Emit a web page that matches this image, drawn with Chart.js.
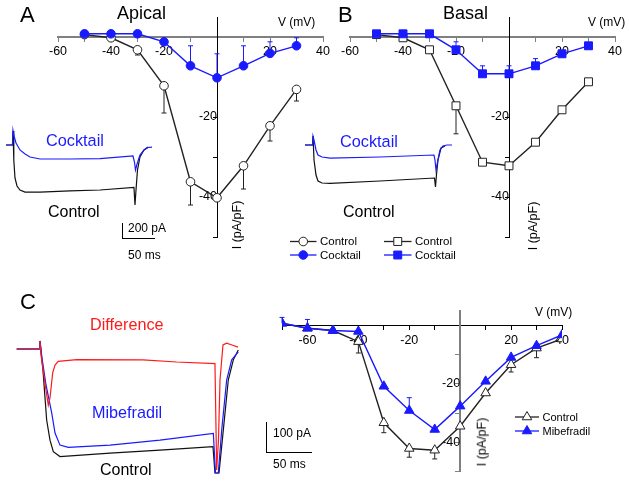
<!DOCTYPE html>
<html>
<head>
<meta charset="utf-8">
<script src="https://cdn.jsdelivr.net/npm/chart.js@4.4.1/dist/chart.umd.min.js"></script>
<style>
  body { margin: 0; background: #fff; }
  #figura { position: relative; width: 629px; height: 481px; overflow: hidden; font-family: Arial, "Liberation Sans", sans-serif; }
  #figura canvas { position: absolute; left: 0; top: 0; }
  .txt { position: absolute; white-space: nowrap; line-height: 1; transform: translateY(-50%); }
  .rot { position: absolute; white-space: nowrap; line-height: 1; font-size: 12.5px; transform: translate(-50%, -50%) rotate(-90deg); }
  .barra { position: absolute; background: #000; }
</style>
</head>
<body>
<div id="figura">
  <canvas id="tracoA" width="629" height="481"></canvas>
  <canvas id="tracoB" width="629" height="481"></canvas>
  <canvas id="tracoC" width="629" height="481"></canvas>
  <canvas id="ivA" width="629" height="481"></canvas>
  <canvas id="ivB" width="629" height="481"></canvas>
  <canvas id="ivC" width="629" height="481"></canvas>

  <div class="txt" style="left:20px; top:15px; font-size:22px;">A</div>
  <div class="txt" style="left:117px; top:13px; font-size:18px;">Apical</div>
  <div class="txt" style="left:338px; top:15px; font-size:22px;">B</div>
  <div class="txt" style="left:443px; top:13px; font-size:18px;">Basal</div>
  <div class="txt" style="left:20px; top:302px; font-size:22px;">C</div>

  <div class="txt" style="left:278px; top:22px; font-size:12px;">V (mV)</div>
  <div class="txt" style="left:588px; top:22px; font-size:12px;">V (mV)</div>
  <div class="txt" style="left:535px; top:312px; font-size:12px;">V (mV)</div>
  <div class="rot" style="left:237px; top:225px;">I (pA/pF)</div>
  <div class="rot" style="left:533px; top:226px;">I (pA/pF)</div>
  <div class="rot" style="left:482px; top:442px;">I (pA/pF)</div>

  <div class="txt" style="left:46px; top:140px; font-size:16.3px; color:#1a1aff;">Cocktail</div>
  <div class="txt" style="left:48px; top:212px; font-size:16px;">Control</div>
  <div class="txt" style="left:340px; top:141px; font-size:16.3px; color:#1a1aff;">Cocktail</div>
  <div class="txt" style="left:343px; top:212px; font-size:16px;">Control</div>
  <div class="barra" style="left:122px; top:223px; width:1.3px; height:16px;"></div>
  <div class="barra" style="left:122px; top:238px; width:33px; height:1.3px;"></div>
  <div class="txt" style="left:128px; top:228px; font-size:12px;">200 pA</div>
  <div class="txt" style="left:128px; top:255px; font-size:12px;">50 ms</div>

  <div class="txt" style="left:90px; top:324px; font-size:16.2px; color:#ff1a1a;">Difference</div>
  <div class="txt" style="left:92px; top:412px; font-size:16.2px; color:#1a1aff;">Mibefradil</div>
  <div class="txt" style="left:100px; top:470px; font-size:16px;">Control</div>
  <div class="barra" style="left:266px; top:422px; width:1.2px; height:31px;"></div>
  <div class="barra" style="left:266px; top:452px; width:45.5px; height:1.2px;"></div>
  <div class="txt" style="left:273px; top:433px; font-size:12px;">100 pA</div>
  <div class="txt" style="left:273px; top:464px; font-size:12px;">50 ms</div>
</div>

<script>
// curvas I-V (mV, pA/pF)
const tensaoAB = [-50, -40, -30, -20, -10, 0, 10, 20, 30];
const controleApical = [0.6, -0.2, -3.2, -12.2, -36.2, -40.2, -32.2, -22.2, -13.1];
const erroControleApical = [0, 0, 1.3, 6.8, 5.8, 0, 5.8, 3.8, 2.9];
const coquetelApical = [0.8, 0.8, 0.8, -1.2, -7.2, -10.2, -7.2, -4.1, -2.2];
const erroCoquetelApical = [0, 0, 0, 0, 5, 6, 5, 2.9, 2];

const controleBasal = [0.6, -0.2, -3.2, -17.2, -31.3, -32.2, -26.3, -18.2, -11.2];
const erroControleBasal = [0, 0, 0, 7, 0, 0, 0, 0, 0];
const coquetelBasal = [0.8, 0.8, 0.8, -3.2, -9.2, -9.2, -7.2, -4.2, -2.2];
const erroCoquetelBasal = [0, 0, 0, 2, 2, 2, 1.8, 0, 0];

const tensaoC = [-70, -60, -50, -40, -30, -20, -10, 0, 10, 20, 30, 40];
const controleC = [0.8, -0.9, -1.7, -5.5, -33.3, -42.1, -42.7, -34.5, -23.1, -13.4, -7.7, -4.6];
const erroControleC = [0, 0, 0, 3.9, 3.4, 3, 3, 0, 0, 2.5, 3.3, 0];
const mibefradil = [0.8, -0.9, -1.7, -2, -20.8, -29.1, -35.6, -27.6, -19.1, -10.9, -6.9, -3.2];
const erroMibefradil = [2, 3, 0, 0, 0, 4.4, 0, 0, 0, 0, 0, 0];

// registros de corrente (ms, pA)
const tempoCoquetelA = [-10.9, -0.8, 0, 1.6, 4.7, 10.9, 18.8, 26.6, 42.2, 89, 136, 187.5, 189.8, 191.4, 193.8, 198.4, 204.7, 210.9, 217.2];
const correnteCoquetelA = [0, 0, 178, 110, 25, -61, -110, -147, -172, -172, -166, -135, -209, -307, -233, -123, -61, -31, -25];
const tempoControleA = [-10.9, -0.8, 0, 1.25, 3.1, 6.25, 10.9, 18.8, 42.2, 89, 136, 189, 190.6, 192.2, 194.5, 198.4, 204.7, 210.9];
const correnteControleA = [0, 0, 172, -184, -405, -503, -552, -577, -577, -564, -552, -521, -736, -552, -307, -147, -61, -25];

const tempoCoquetelB = [-12.5, -0.8, 0, 1.6, 4.7, 7.8, 14.1, 26.6, 104.7, 189, 190.6, 192.2, 194.5, 198.4, 203, 209.4, 217.2];
const correnteCoquetelB = [0, 0, 110, 61, -61, -123, -147, -160, -147, -123, -184, -307, -209, -61, -12, 0, 0];
const tempoControleB = [-12.5, -0.8, 0, 1.6, 4.7, 7.8, 14.1, 26.6, 104.7, 189.8, 191.4, 192.9, 195.3, 200, 206.3];
const correnteControleB = [0, 0, 110, -184, -368, -442, -466, -472, -442, -405, -515, -368, -184, -37, -12];

const tempoDiferenca = [-25.9, -0.6, 0, 1.1, 5, 9.2, 11.1, 14.1, 16.7, 20.3, 40.8, 114.4, 151.9, 194.4, 196.3, 198.3, 200, 203.3, 207.4, 213.3, 220];
const correnteDiferenca = [0, 0, 26, -19, -100, -181, -158, -77, -52, -40, -34, -35, -42, -47, -390, -294, -100, 13, 19, 13, 6];
const tempoMibefradil = [-25.9, -0.6, 0, 2.2, 6.7, 13, 16.7, 22.2, 31.4, 77.8, 133.3, 192.6, 195, 198.1, 201.9, 207.4, 213, 220.3];
const correnteMibefradil = [0, 0, 26, -29, -116, -206, -271, -310, -317, -310, -294, -272, -400, -400, -261, -100, -35, -9];
const tempoControleC = [-25.9, -0.6, 0, 3.3, 7.4, 11.1, 14.8, 22.2, 77.8, 133.3, 192.2, 194.4, 198.9, 203.7, 209.2, 214.8, 220.3];
const correnteControleC = [0, 0, 26, -68, -229, -294, -331, -347, -336, -326, -315, -400, -400, -261, -100, -35, -3];

const AZUL = "#1a1aff";
const VERMELHO = "#ff1a1a";
const PRETO = "#111";
const FONTE = "Arial, 'Liberation Sans', sans-serif";

function pontos(xs, ys) {
  return xs.map((x, i) => ({ x: x, y: ys[i] }));
}

function desenhaMarcador(ctx, estilo, x, y, r, cor, cheio) {
  ctx.save();
  ctx.beginPath();
  if (estilo === "circle") {
    ctx.arc(x, y, r, 0, Math.PI * 2);
  } else if (estilo === "rect") {
    const s = r * Math.SQRT1_2;
    ctx.rect(x - s, y - s, 2 * s, 2 * s);
  } else {
    ctx.moveTo(x, y - r);
    ctx.lineTo(x + r * 0.866, y + r * 0.5);
    ctx.lineTo(x - r * 0.866, y + r * 0.5);
    ctx.closePath();
  }
  ctx.fillStyle = cheio ? cor : "#fff";
  ctx.fill();
  ctx.lineWidth = 1;
  ctx.strokeStyle = cor;
  ctx.stroke();
  ctx.restore();
}

// barras de erro desenhadas antes dos marcadores
const barrasDeErro = {
  id: "barrasDeErro",
  beforeDatasetsDraw(chart) {
    const ctx = chart.ctx;
    const sx = chart.scales.x;
    const sy = chart.scales.y;
    chart.data.datasets.forEach((ds) => {
      if (!ds.erro) return;
      ctx.save();
      ctx.strokeStyle = ds.borderColor;
      ctx.lineWidth = 1;
      ds.data.forEach((p, i) => {
        const e = ds.erro[i];
        if (!e) return;
        const px = sx.getPixelForValue(p.x);
        const y0 = sy.getPixelForValue(p.y);
        const y1 = sy.getPixelForValue(p.y + ds.sentidoErro * e);
        ctx.beginPath();
        ctx.moveTo(px, y0);
        ctx.lineTo(px, y1);
        ctx.moveTo(px - 2.5, y1);
        ctx.lineTo(px + 2.5, y1);
        ctx.stroke();
      });
      ctx.restore();
    });
  },
};

// legenda do tipo  -o- Control
const legendaFigura = {
  id: "legendaFigura",
  afterDraw(chart, args, opcoes) {
    if (!opcoes.itens) return;
    const ctx = chart.ctx;
    opcoes.itens.forEach((item) => {
      const ds = chart.data.datasets[item.dataset];
      ctx.save();
      ctx.strokeStyle = ds.borderColor;
      ctx.lineWidth = 1.3;
      ctx.beginPath();
      ctx.moveTo(item.x1, item.y);
      ctx.lineTo(item.x2, item.y);
      ctx.stroke();
      desenhaMarcador(ctx, ds.pointStyle, (item.x1 + item.x2) / 2, item.y, ds.pointRadius, ds.borderColor, ds.cheio);
      ctx.fillStyle = "#000";
      ctx.font = opcoes.fonte + "px " + FONTE;
      ctx.textBaseline = "middle";
      ctx.fillText(ds.label, item.x2 + 3.5, item.y + 0.5);
      ctx.restore();
    });
  },
};

const marcadorSimples = {
  id: "marcadorSimples",
  afterDatasetsDraw(chart) {
    // redesenha os marcadores por cima das linhas, na ordem dos datasets
  },
};

function serieIV(rotulo, xs, ys, erros, sentido, cor, estilo, raio, cheio) {
  return {
    label: rotulo,
    data: pontos(xs, ys),
    erro: erros,
    sentidoErro: sentido,
    showLine: true,
    borderColor: cor,
    borderWidth: 1.4,
    backgroundColor: cheio ? cor : "#fff",
    pointBackgroundColor: cheio ? cor : "#fff",
    pointBorderColor: cor,
    pointBorderWidth: 1,
    pointStyle: estilo,
    pointRadius: raio,
    cheio: cheio,
  };
}

function graficoIV(id, series, eixo, area, legenda) {
  new Chart(document.getElementById(id), {
    type: "scatter",
    data: { datasets: series },
    options: {
      responsive: false,
      animation: false,
      events: [],
      layout: { padding: area },
      plugins: {
        legend: { display: false },
        tooltip: { enabled: false },
        legendaFigura: legenda,
      },
      scales: {
        x: {
          type: "linear",
          min: eixo.xMin,
          max: eixo.xMax,
          position: { y: 0 },
          grid: { display: true, drawOnChartArea: false, drawTicks: true, tickLength: 4, color: eixo.corX },
          border: { color: eixo.corX, width: eixo.larguraX },
          ticks: {
            stepSize: 10,
            autoSkip: false,
            maxRotation: 0,
            padding: 3,
            color: "#000",
            font: { family: FONTE, size: 12.5 },
            callback: (v) => (v % 20 === 0 && v !== 0 ? v : ""),
          },
        },
        y: {
          type: "linear",
          min: -50,
          max: 5,
          position: { x: 0 },
          afterBuildTicks: (s) => {
            s.ticks = s.ticks.filter((t) => t.value % 10 === 0);
          },
          grid: { display: true, drawOnChartArea: false, drawTicks: true, tickLength: 4, color: eixo.corY },
          border: { color: eixo.corY, width: eixo.larguraY },
          ticks: {
            stepSize: 10,
            autoSkip: false,
            padding: 2,
            color: "#000",
            font: { family: FONTE, size: 12.5 },
            callback: (v) => (v === -20 || v === -40 ? v : ""),
          },
        },
      },
    },
    plugins: [barrasDeErro, legendaFigura],
  });
}

function graficoTraco(id, series, lim, area) {
  new Chart(document.getElementById(id), {
    type: "scatter",
    data: {
      datasets: series.map((s) => ({
        data: pontos(s.t, s.i),
        showLine: true,
        borderColor: s.cor,
        borderWidth: 1.2,
        pointRadius: 0,
        tension: 0,
      })),
    },
    options: {
      responsive: false,
      animation: false,
      events: [],
      layout: { padding: area },
      plugins: { legend: { display: false }, tooltip: { enabled: false } },
      scales: {
        x: { type: "linear", display: false, min: lim.tMin, max: lim.tMax },
        y: { type: "linear", display: false, min: lim.iMin, max: lim.iMax },
      },
    },
  });
}

// registros A e B: 0.64 px/ms, 0.0815 px/pA
const limitesAB = { tMin: -20.3125, tMax: 229.6875, iMin: -1042.9, iMax: 552.1 };
graficoTraco("tracoA", [
  { t: tempoCoquetelA, i: correnteCoquetelA, cor: AZUL },
  { t: tempoControleA, i: correnteControleA, cor: PRETO },
], limitesAB, { left: 0, right: 469, top: 100, bottom: 251 });

graficoTraco("tracoB", [
  { t: tempoCoquetelB, i: correnteCoquetelB, cor: AZUL },
  { t: tempoControleB, i: correnteControleB, cor: PRETO },
], limitesAB, { left: 300, right: 169, top: 100, bottom: 251 });

// registros C: 0.9 px/ms, 0.31 px/pA
graficoTraco("tracoC", [
  { t: tempoDiferenca, i: correnteDiferenca, cor: VERMELHO },
  { t: tempoMibefradil, i: correnteMibefradil, cor: AZUL },
  { t: tempoControleC, i: correnteControleC, cor: PRETO },
], { tMin: -33.33, tMax: 233.33, iMin: -403.2, iMax: 61.3 }, { left: 10, right: 379, top: 330, bottom: 7 });

const eixoAB = { xMin: -60, xMax: 40, corX: "#808080", larguraX: 2, corY: "#000", larguraY: 1 };

graficoIV("ivA", [
  serieIV("Cocktail", tensaoAB, coquetelApical, erroCoquetelApical, 1, AZUL, "circle", 4.3, true),
  serieIV("Control", tensaoAB, controleApical, erroControleApical, -1, "#222", "circle", 4.3, false),
], eixoAB, { left: 58, right: 306, top: 17, bottom: 244 }, {
  fonte: 11.5,
  itens: [
    { dataset: 1, x1: 290, x2: 316.5, y: 241.5 },
    { dataset: 0, x1: 290, x2: 316.5, y: 255 },
  ],
});

graficoIV("ivB", [
  serieIV("Cocktail", tensaoAB, coquetelBasal, erroCoquetelBasal, 1, AZUL, "rect", 5.6, true),
  serieIV("Control", tensaoAB, controleBasal, erroControleBasal, -1, "#222", "rect", 5.6, false),
], eixoAB, { left: 350, right: 14, top: 17, bottom: 244 }, {
  fonte: 11.5,
  itens: [
    { dataset: 1, x1: 384, x2: 411.5, y: 241.5 },
    { dataset: 0, x1: 384, x2: 411.5, y: 255 },
  ],
});

graficoIV("ivC", [
  serieIV("Mibefradil", tensaoC, mibefradil, erroMibefradil, 1, AZUL, "triangle", 5.5, true),
  serieIV("Control", tensaoC, controleC, erroControleC, -1, "#222", "triangle", 5.5, false),
], { xMin: -70, xMax: 40, corX: "#000", larguraX: 1, corY: "#808080", larguraY: 2 },
{ left: 282, right: 67, top: 311, bottom: 9 }, {
  fonte: 11,
  itens: [
    { dataset: 1, x1: 515, x2: 539, y: 417 },
    { dataset: 0, x1: 515, x2: 539, y: 431 },
  ],
});
</script>
</body>
</html>
